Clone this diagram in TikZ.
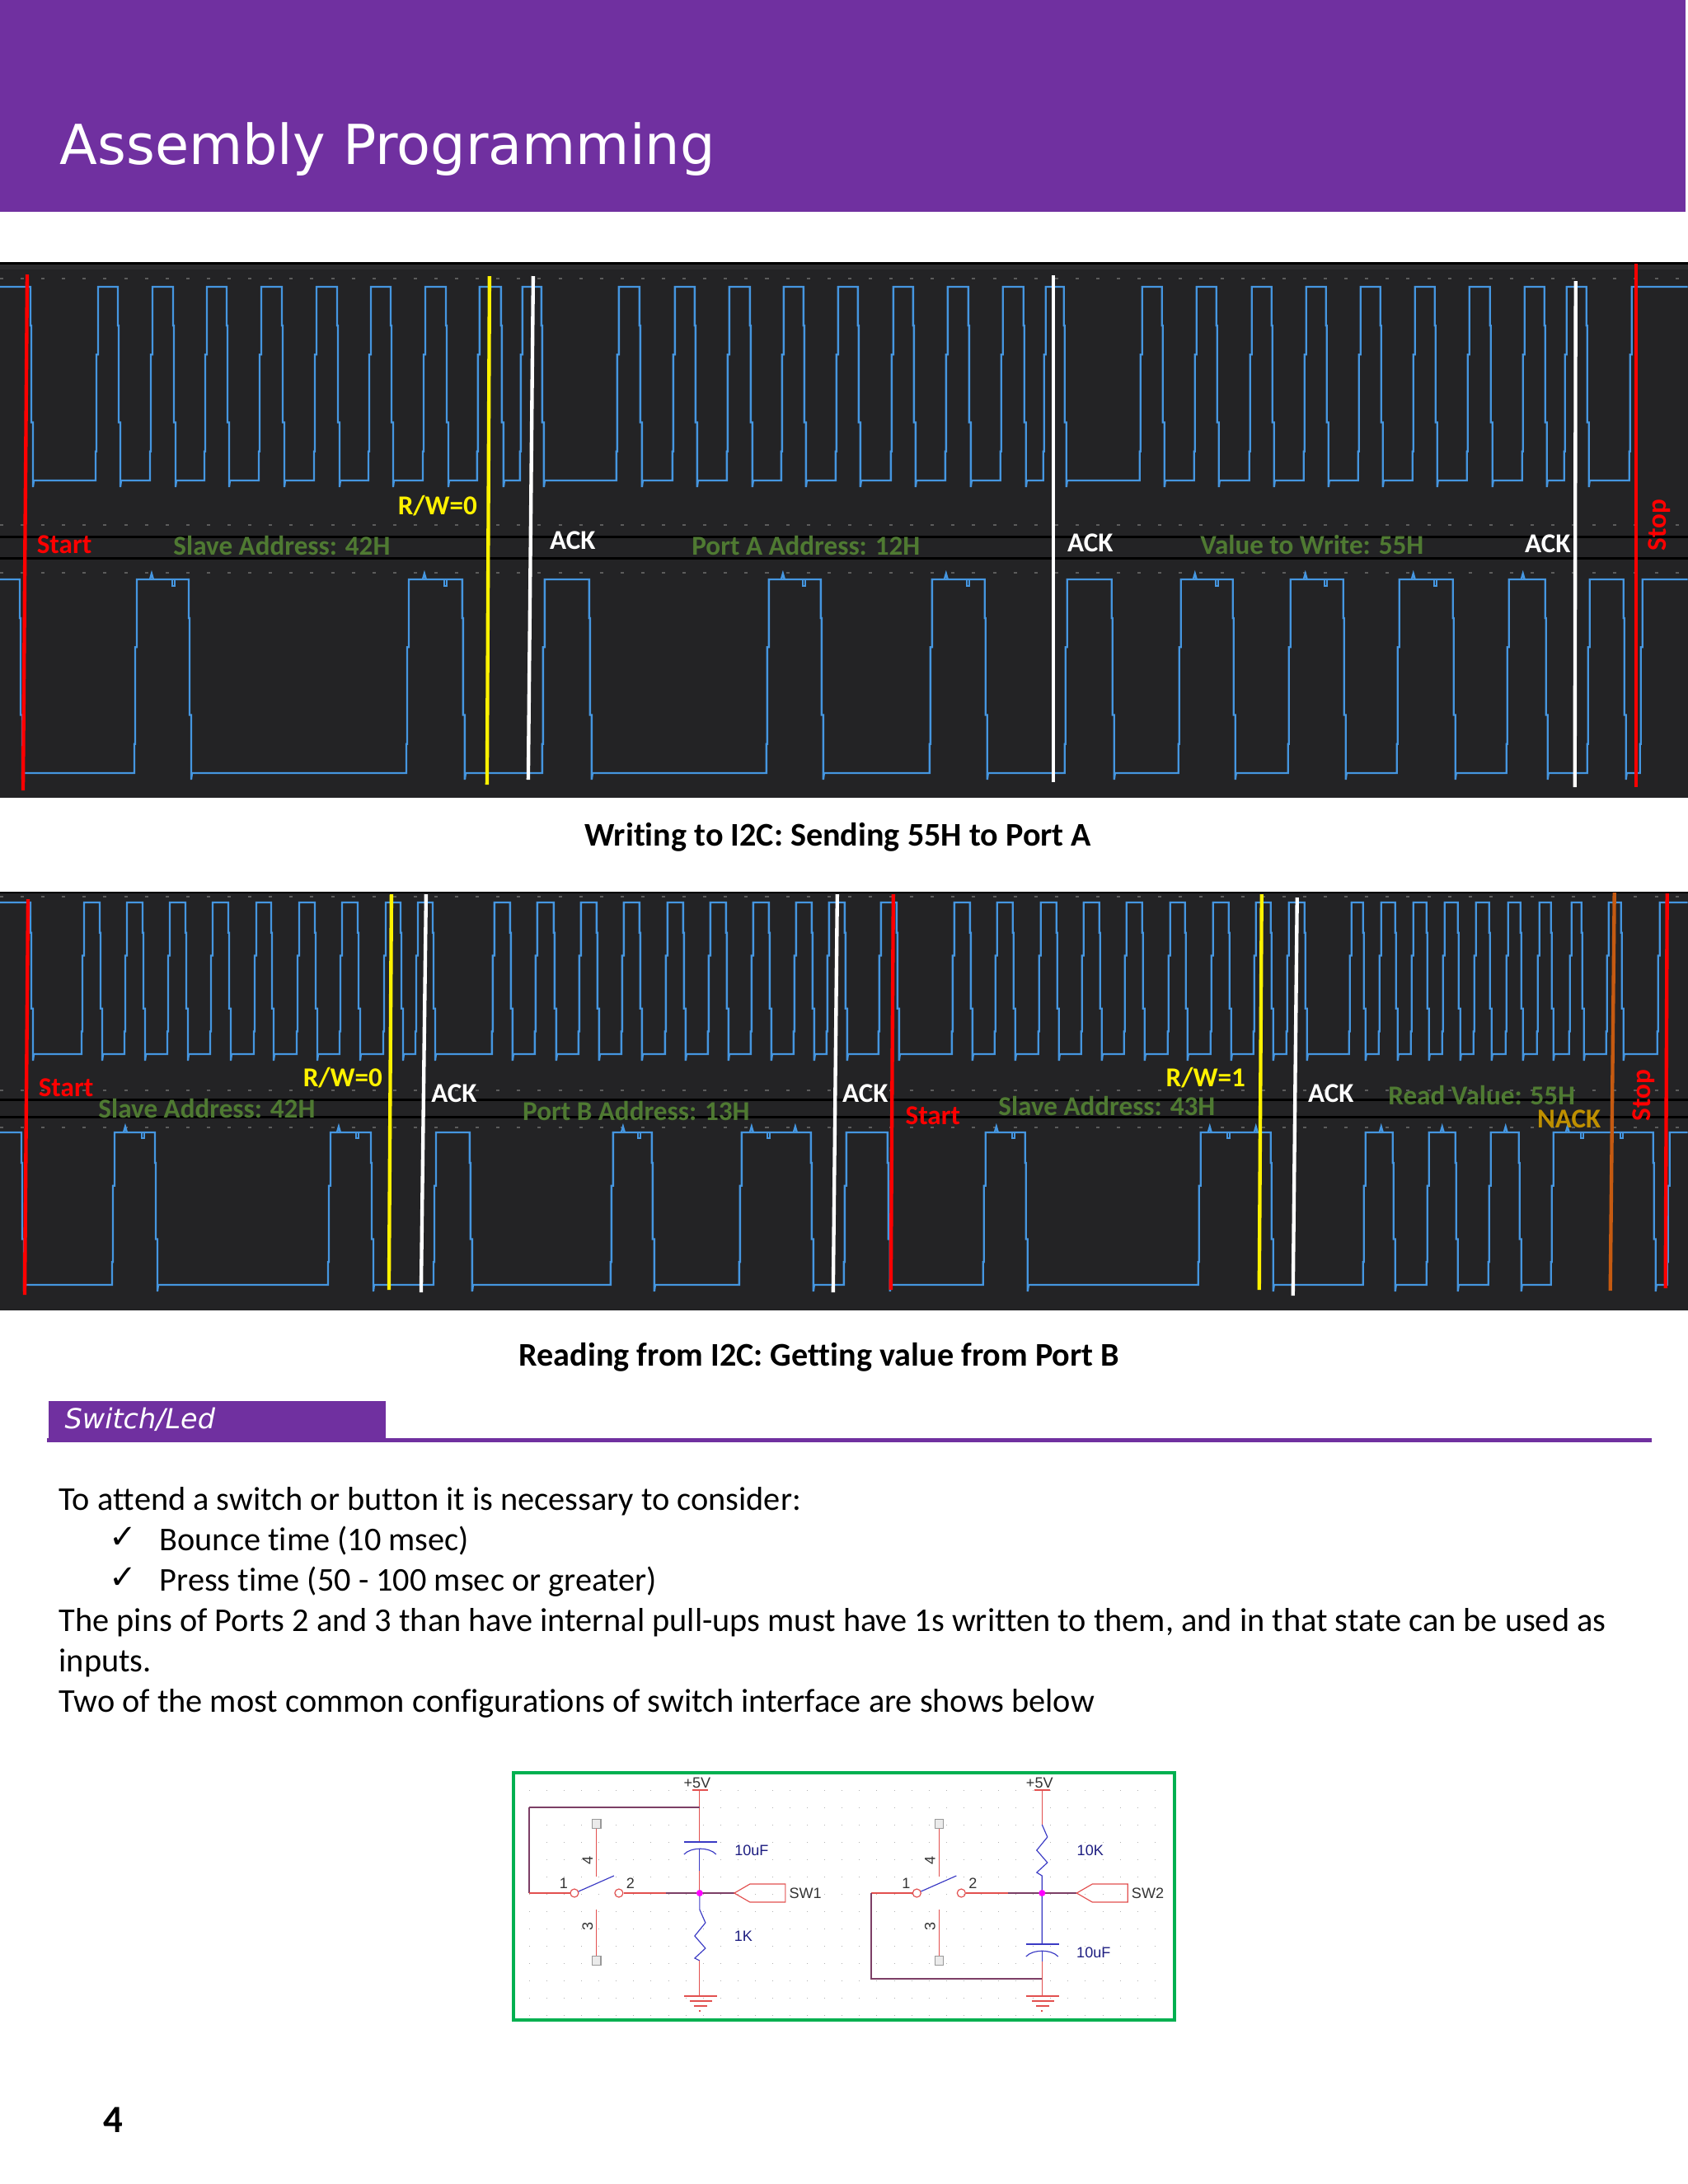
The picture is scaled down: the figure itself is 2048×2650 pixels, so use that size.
\documentclass[tikz,border=0pt]{standalone}
\usepackage{fontspec}
\setmainfont[Ligatures=NoCommon]{Carlito}
\newfontfamily\titlefont{DejaVu Sans}
\newfontfamily\chkfont{DejaVu Sans}
\newfontfamily\schfont{Liberation Sans}
\definecolor{bannerpurple}{HTML}{7030A0}
\definecolor{scopebg}{HTML}{232325}
\definecolor{scopeedge}{HTML}{2C2C2E}
\definecolor{scopedots}{HTML}{5C5C5C}
\definecolor{tracecol}{HTML}{4596E0}
\definecolor{addrgreen}{HTML}{4F7A32}
\definecolor{nackgold}{HTML}{BF9000}
\definecolor{nackline}{HTML}{C55A11}
\definecolor{wirered}{HTML}{E2504F}
\definecolor{wiredark}{HTML}{7C3F66}
\definecolor{partblue}{HTML}{3A3AC4}
\definecolor{valnavy}{HTML}{1C1C80}
\definecolor{boxgreen}{HTML}{00B050}
\definecolor{dotpink}{HTML}{FF00FF}
\tikzset{
  sigtrace/.style={tracecol, line width=0.7pt},
  marker/.style={line width=1.3pt},
  dotrow/.style={scopedots, line width=0.4pt, dash pattern=on 1.2pt off 6.3pt},
  ticklbl/.style={font=\fontsize{9.9}{12}\selectfont\bfseries, inner sep=0pt},
  bodyline/.style={font=\fontsize{12.05}{14}\selectfont, anchor=base west, inner sep=0pt},
  caption/.style={font=\fontsize{12}{14}\selectfont\bfseries, anchor=base, inner sep=0pt},
  wire/.style={wirered, line width=0.35pt},
  darkwire/.style={wiredark, line width=0.5pt},
  partline/.style={partblue, line width=0.35pt},
  schlbl/.style={font=\schfont\fontsize{5.4}{6}\selectfont, inner sep=0pt},
  pinbox/.style={draw=black!40, fill=black!8, line width=0.35pt, minimum width=3pt, minimum height=3.4pt, inner sep=0pt},
  griddot/.style={black!30, line width=0.25pt, dash pattern=on 0.3pt off 6pt},
}
% one signal: rise/fall pairs, hi level, lo level
\newcommand{\sigtrain}[3]{%
  \foreach \rise/\fall [remember=\fall as \lastfall (initially -60)] in {#3} {
    \draw[sigtrace] (\lastfall+3,#2) -- (\rise-2,#2) -- (\rise-2,{#2-0.15*(#2-#1)}) -- (\rise-1,{#2-0.15*(#2-#1)})
      -- (\rise-1,{#2-0.65*(#2-#1)}) -- (\rise+1,{#2-0.65*(#2-#1)}) -- (\rise+1,#1) -- (\fall-1,#1)
      -- (\fall-1,{#1+0.2*(#2-#1)}) -- (\fall,{#1+0.2*(#2-#1)}) -- (\fall,{#1+0.7*(#2-#1)})
      -- (\fall+2,{#1+0.7*(#2-#1)}) -- (\fall+2,#2+8) -- (\fall+3,#2);
  }}
\begin{document}
\begin{tikzpicture}[x=0.29883pt, y=-0.29887pt]
  \useasboundingbox (0,0) rectangle (2048,2650);
  % banner
  \fill[bannerpurple] (0,0) rectangle (2045,257);
  \node[font=\titlefont\fontsize{20}{24}\selectfont, text=white, anchor=base west, inner sep=0pt] (title) at (72,199) {Assembly Programming};

  % first capture
  \fill[scopebg] (0,318) rectangle (2048,968);
  \fill[scopeedge] (0,321) rectangle (2048,327);
  \fill[black] (0,318) rectangle (2048,321);
  \fill[black] (0,650) rectangle (2048,653);
  \fill[black] (0,676) rectangle (2048,679);
  \foreach \y in {338,637,695} { \draw[dotrow] (0,\y) -- (2048,\y); }
  \begin{scope}
    \clip (0,318) rectangle (2048,968);
    \sigtrain{348}{583}{-40/38,118/144,184/211,250/276,316/343,383/410,449/475,515/542,581/609,633/658,750/777,818/844,884/911,950/976,1016/1042,1083/1109,1149/1176,1216/1243,1268/1292,1385/1411,1451/1477,1518/1544,1584/1610,1650/1676,1716/1742,1782/1809,1849/1875,1900/1926,1979/2100}
    \sigtrain{703}{938}{-40/25,165/230,495/562,660/716,932/997,1130/1196,1294/1350,1432/1497,1565/1631,1697/1764,1830/1876,1928/1971,1992/2100}
    \foreach \g in {184,515,950,1148,1450,1584,1715,1848} { \draw[sigtrace] (\g-2,703) -- (\g,696) -- (\g+2,703); }
    \foreach \g in {211,541,976,1175,1477,1609,1742} { \draw[sigtrace] (\g-2,703) -- (\g-2,711) -- (\g+1,711) -- (\g+1,703); }
  \end{scope}
  \draw[marker, red] (33,333) -- (28,959);
  \draw[marker, yellow] (594,335) -- (591,952);
  \draw[marker, white] (647,335) -- (641,946);
  \draw[marker, white] (1278,334) -- (1278,949);
  \draw[marker, white] (1912,341) -- (1911,955);
  \draw[marker, red] (1985,320) -- (1985,955);
  \node[ticklbl, text=red] (starta) at (78,661) {Start};
  \node[ticklbl, text=addrgreen] (slavea) at (342,662) {Slave Address: 42H};
  \node[ticklbl, text=yellow] (rwa) at (531,614) {R/W=0};
  \node[ticklbl, text=white] (acka) at (695,656) {ACK};
  \node[ticklbl, text=addrgreen] (porta) at (978,662) {Port A Address: 12H};
  \node[ticklbl, text=white] (ackb) at (1323,659) {ACK};
  \node[ticklbl, text=addrgreen] (valuea) at (1592,661) {Value to Write: 55H};
  \node[ticklbl, text=white] (ackc) at (1878,660) {ACK};
  \node[ticklbl, text=red, rotate=90] (stopa) at (2014,637) {Stop};
  \node[caption] (capa) at (1017,1026) {Writing to I2C: Sending 55H to Port A};

  % second capture
  \fill[scopebg] (0,1082) rectangle (2048,1590);
  \fill[black] (0,1082) rectangle (2048,1084);
  \fill[black] (0,1333) rectangle (2048,1336);
  \fill[black] (0,1354) rectangle (2048,1357);
  \foreach \y in {1088,1323,1368} { \draw[dotrow] (0,\y) -- (2048,\y); }
  \begin{scope}
    \clip (0,1082) rectangle (2048,1590);
    \sigtrain{1095}{1279}{-40/38,101/122,153/174,205/226,257/278,310/330,362/383,414/435,467/487,506/526,599/620,651/673,704/725,756/777,809/830,861/882,913/934,965/986,1005/1026,1068/1089,1157/1178,1209/1230,1262/1283,1314/1335,1366/1387,1419/1439,1471/1492,1523/1543,1563/1584,1639/1655,1675/1694,1714/1732,1752/1770,1790/1808,1829/1846,1867/1883,1906/1920,1951/1968,2013/2100}
    \sigtrain{1374}{1559}{-40/27,138/189,400/451,528/571,743/792,899/985,1026/1078,1195/1245,1456/1543,1656/1691,1733/1767,1808/1844,1884/2007,2025/2100}
    \foreach \g in {152,411,756,912,965,1209,1468,1524,1676,1750,1827,1902} { \draw[sigtrace] (\g-2,1374) -- (\g,1367) -- (\g+2,1374); }
    \foreach \g in {174,434,776,933,1230,1491,1920,1968} { \draw[sigtrace] (\g-2,1374) -- (\g-2,1381) -- (\g+1,1381) -- (\g+1,1374); }
  \end{scope}
  \draw[marker, red] (34,1091) -- (30,1571);
  \draw[marker, yellow] (475,1085) -- (472,1565);
  \draw[marker, white] (517,1085) -- (511,1568);
  \draw[marker, white] (1016,1085) -- (1011,1568);
  \draw[marker, red] (1084,1085) -- (1081,1565);
  \draw[marker, yellow] (1531,1085) -- (1528,1565);
  \draw[marker, white] (1574,1089) -- (1569,1572);
  \draw[marker, nackline] (1959,1083) -- (1954,1566);
  \draw[marker, red] (2023,1084) -- (2021,1563);
  \node[ticklbl, text=red] (startb) at (80,1320) {Start};
  \node[ticklbl, text=addrgreen] (slaveb) at (251,1345) {Slave Address: 42H};
  \node[ticklbl, text=yellow] (rwb) at (416,1308) {R/W=0};
  \node[ticklbl, text=white] (ackd) at (551,1327) {ACK};
  \node[ticklbl, text=addrgreen] (portb) at (772,1348) {Port B Address: 13H};
  \node[ticklbl, text=white] (acke) at (1050,1327) {ACK};
  \node[ticklbl, text=red] (startc) at (1132,1354) {Start};
  \node[ticklbl, text=addrgreen] (slavec) at (1343,1342) {Slave Address: 43H};
  \node[ticklbl, text=yellow] (rwc) at (1463,1308) {R/W=1};
  \node[ticklbl, text=white] (ackf) at (1615,1327) {ACK};
  \node[ticklbl, text=addrgreen] (readb) at (1798,1329) {Read Value: 55H};
  \node[ticklbl, text=nackgold] (nackb) at (1904,1358) {NACK};
  \node[ticklbl, text=red, rotate=90] (stopb) at (1995,1329) {Stop};
  \node[caption] (capb) at (994,1657) {Reading from I2C: Getting value from Port B};

  % section heading
  \fill[bannerpurple] (59,1700) rectangle (468,1746);
  \fill[bannerpurple] (57,1745) rectangle (2004,1750);
  \node[font=\titlefont\itshape\fontsize{10}{12}\selectfont, text=white, anchor=west, inner sep=0pt] (section) at (78,1722) {Switch/Led};

  % body text
  \node[bodyline] (linea) at (71,1832) {To attend a switch or button it is necessary to consider:};
  \node[bodyline, font=\chkfont\fontsize{12}{14}\selectfont] (chka) at (132,1878) {✓};
  \node[bodyline] (lineb) at (193,1881) {Bounce time (10 msec)};
  \node[bodyline, font=\chkfont\fontsize{12}{14}\selectfont] (chkb) at (132,1927) {✓};
  \node[bodyline] (linec) at (193,1930) {Press time (50 - 100 msec or greater)};
  \node[bodyline] (lined) at (71,1979) {The pins of Ports 2 and 3 than have internal pull-ups must have 1s written to them, and in that state can be used as};
  \node[bodyline] (linee) at (71,2028) {inputs.};
  \node[bodyline] (linef) at (71,2077) {Two of the most common configurations of switch interface are shows below};

  % schematic
  \foreach \y in {2172,2193,...,2445} { \draw[griddot] (642,\y) -- (1420,\y); }
  \draw[boxgreen, line width=1.1pt] (623,2151) rectangle (1425,2451);
  \foreach \sx/\sw in {0/SW1,415.5/SW2} {
    \begin{scope}[shift={(\sx,0)}]
      % parts both circuits share
      \draw[wire] (840,2172) -- (859,2172);
      \node[schlbl, text=black!80] (vcc\sw) at (846,2163) {+5V};
      \draw[wire] (757,2297) -- (808,2297);
      \draw[darkwire] (808,2297) -- (891,2297);
      \draw[wire] (697,2297) circle[radius=5];
      \draw[wire] (751,2297) circle[radius=5];
      \draw[partline] (702,2295) -- (745,2276);
      \node[schlbl, text=black!80] (one\sw) at (684,2285) {1};
      \node[schlbl, text=black!80] (two\sw) at (765,2285) {2};
      \draw[wire] (724,2219) -- (724,2277);
      \draw[wire] (724,2317) -- (724,2373);
      \node[pinbox] (pinf\sw) at (724,2213) {};
      \node[pinbox] (pint\sw) at (724,2379) {};
      \node[schlbl, text=black!80, rotate=90] (four\sw) at (713,2257) {4};
      \node[schlbl, text=black!80, rotate=90] (three\sw) at (713,2337) {3};
      \draw[wire] (891,2297) -- (910,2286) -- (953,2286) -- (953,2308) -- (910,2308) -- cycle;
      \node[schlbl, text=black!80, anchor=west] (port\sw) at (957,2297) {\sw};
      \draw[wire] (830,2422) -- (870,2422) (837,2428) -- (864,2428) (842,2434) -- (858,2434) (848,2440) -- (850,2440);
    \end{scope}
  }
  % left circuit
  \draw[wire] (849,2172) -- (849,2235);
  \draw[darkwire] (642,2193) -- (849,2193);
  \draw[darkwire] (642,2193) -- (642,2297);
  \draw[wire] (642,2297) -- (692,2297);
  \draw[partline] (830,2235) -- (870,2235);
  \draw[partline] (830,2250) .. controls (838,2241) and (861,2241) .. (869,2250);
  \draw[partline] (849,2243) -- (849,2270);
  \draw[wire] (849,2270) -- (849,2297);
  \node[schlbl, text=valnavy] (capl) at (912,2245) {10uF};
  \draw[partline] (849,2297) -- (849,2317) -- (856,2333) -- (843,2349) -- (856,2364) -- (843,2376) -- (849,2379);
  \draw[wire] (849,2379) -- (849,2422);
  \node[schlbl, text=valnavy] (resl) at (902,2349) {1K};
  % right circuit
  \draw[wire] (1264.5,2172) -- (1264.5,2214);
  \draw[partline] (1264.5,2214) -- (1271,2229) -- (1258,2245) -- (1271,2260) -- (1258,2272) -- (1264.5,2276) -- (1264.5,2359);
  \node[schlbl, text=valnavy] (resr) at (1323,2245) {10K};
  \draw[partline] (1245,2359) -- (1285,2359);
  \draw[partline] (1245,2374) .. controls (1253,2365) and (1276,2365) .. (1284,2374);
  \draw[partline] (1264.5,2367) -- (1264.5,2380);
  \draw[wire] (1264.5,2380) -- (1264.5,2422);
  \node[schlbl, text=valnavy] (capr) at (1327,2369) {10uF};
  \draw[wire] (1057,2297) -- (1107.5,2297);
  \draw[darkwire] (1057,2297) -- (1057,2401) -- (1264.5,2401);
  % junctions
  \foreach \jx in {849,1264.5} { \fill[dotpink] (\jx,2297) circle[radius=4]; }

  % page number
  \node[font=\fontsize{14}{16}\selectfont\bfseries, inner sep=0pt] (pagenum) at (137,2572) {4};
\end{tikzpicture}
\end{document}
